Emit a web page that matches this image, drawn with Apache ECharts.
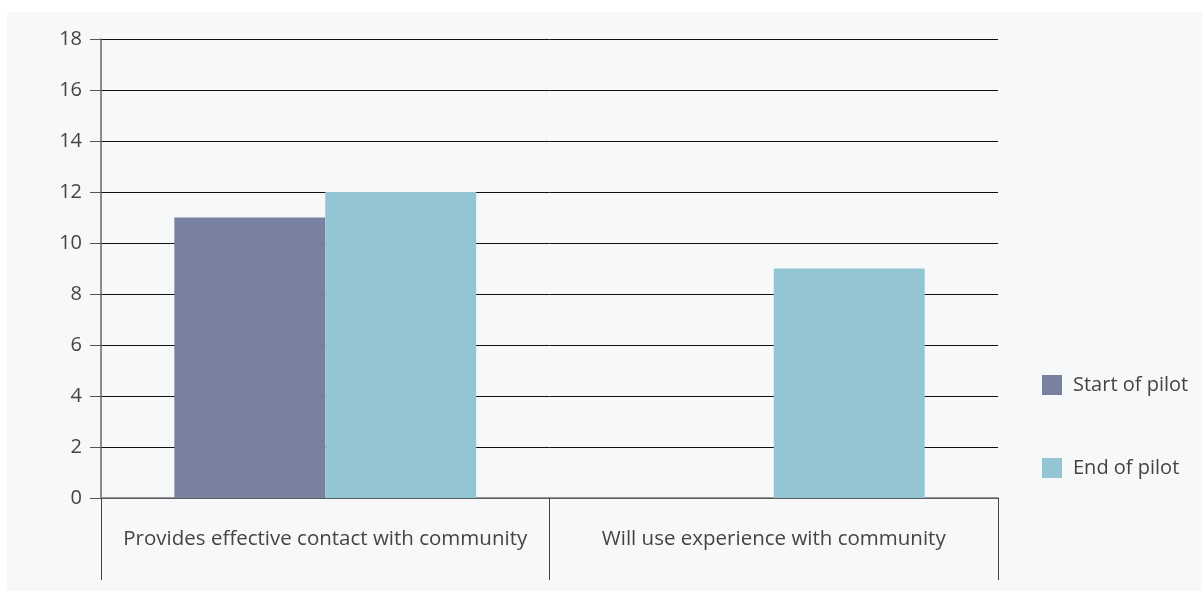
<!DOCTYPE html>
<html>
<head>
<meta charset="utf-8">
<script src="https://cdn.jsdelivr.net/npm/echarts@6/dist/echarts.min.js"></script>
<style>
  html, body { margin: 0; padding: 0; background: #ffffff; }
  #chart { width: 1203px; height: 593px; }
</style>
</head>
<body>
<div id="chart"></div>
<script>
// Survey categories and responses per pilot stage
const categories = ['Provides effective contact with community', 'Will use experience with community'];
const startOfPilot = [11, 0];
const endOfPilot = [12, 9];
const seriesNames = ['Start of pilot', 'End of pilot'];

const font = '"Open Sans", "Noto Sans", sans-serif';
const chart = echarts.init(document.getElementById('chart'));

chart.setOption({
  animation: false,
  graphic: [{
    type: 'rect',
    z: -10,
    silent: true,
    shape: { x: 7, y: 12, width: 1195, height: 579 },
    style: { fill: '#f7f8fa' }
  }],
  grid: { left: 101, right: 205, top: 39, bottom: 95 },
  legend: {
    orient: 'vertical',
    left: 1042,
    top: 375,
    padding: 0,
    itemWidth: 20,
    itemHeight: 20,
    itemGap: 63,
    icon: 'rect',
    textStyle: { fontFamily: font, fontSize: 20, lineHeight: 20, color: '#444', padding: [0, 0, 0, 6] },
    data: seriesNames
  },
  xAxis: {
    type: 'category',
    data: categories,
    axisLine: { show: true, lineStyle: { color: '#777', width: 1.5 } },
    axisTick: { show: true, interval: 0, length: 82, alignWithLabel: false, lineStyle: { color: '#444', width: 1 } },
    axisLabel: { interval: 0, hideOverlap: false, fontFamily: font, fontSize: 20.5, color: '#444', margin: 31 }
  },
  yAxis: {
    type: 'value',
    min: 0,
    max: 18,
    interval: 2,
    axisLine: { show: true, lineStyle: { color: '#666', width: 1.5 } },
    axisTick: { show: true, length: 11, lineStyle: { color: '#555' } },
    axisLabel: { fontFamily: font, fontSize: 20, color: '#444', margin: 19 },
    splitLine: { show: true, lineStyle: { color: '#111', width: 1 } }
  },
  series: [
    {
      name: seriesNames[0],
      type: 'bar',
      data: startOfPilot,
      barGap: '0%',
      barCategoryGap: '32.7%',
      itemStyle: { color: '#78819f' }
    },
    {
      name: seriesNames[1],
      type: 'bar',
      data: endOfPilot,
      barGap: '0%',
      barCategoryGap: '32.7%',
      itemStyle: { color: '#93c5d2' }
    }
  ]
});
</script>
</body>
</html>
